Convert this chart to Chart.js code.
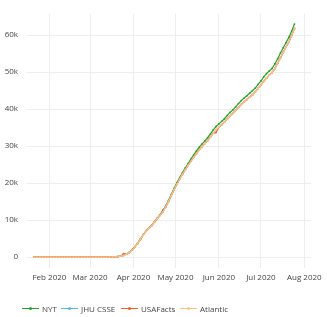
<!DOCTYPE html>
<html><head><meta charset="utf-8">
<script src="https://cdn.jsdelivr.net/npm/chart.js@4/dist/chart.umd.min.js"></script>
<style>
html,body{margin:0;padding:0;background:#fff;}
#wrap{position:relative;width:327px;height:317px;}
#c{position:absolute;left:0;top:0;}
.lg{position:absolute;top:302px;height:13px;display:flex;align-items:center;font-family:"Open Sans",sans-serif;font-size:8px;color:#444;white-space:nowrap;}
.lg .ln{position:relative;width:17px;height:1.5px;margin-right:3px;}
.lg .dt{position:absolute;left:7px;top:-0.75px;width:3px;height:3px;border-radius:1.5px;}
</style></head>
<body><div id="wrap"><canvas id="c" width="327" height="317"></canvas><div id="legend"></div></div>
<script>
const dates = [
'2020-01-21','2020-01-23','2020-01-25','2020-01-27','2020-01-29','2020-01-31',
'2020-02-02','2020-02-04','2020-02-06','2020-02-08','2020-02-10','2020-02-12','2020-02-14','2020-02-16','2020-02-18','2020-02-20','2020-02-22','2020-02-24','2020-02-26','2020-02-28',
'2020-03-01','2020-03-03','2020-03-05','2020-03-07','2020-03-09','2020-03-11','2020-03-13','2020-03-15','2020-03-17','2020-03-19','2020-03-21','2020-03-23','2020-03-25','2020-03-27','2020-03-29','2020-03-31',
'2020-04-02','2020-04-04','2020-04-06','2020-04-08','2020-04-10','2020-04-12','2020-04-14','2020-04-16','2020-04-18','2020-04-20','2020-04-22','2020-04-24','2020-04-26','2020-04-28','2020-04-30',
'2020-05-02','2020-05-04','2020-05-06','2020-05-08','2020-05-10','2020-05-12','2020-05-14','2020-05-16','2020-05-18','2020-05-20','2020-05-22','2020-05-24','2020-05-26','2020-05-28','2020-05-30',
'2020-06-01','2020-06-03','2020-06-05','2020-06-07','2020-06-09','2020-06-11','2020-06-13','2020-06-15','2020-06-17','2020-06-19','2020-06-21','2020-06-23','2020-06-25','2020-06-27','2020-06-29',
'2020-07-01','2020-07-03','2020-07-05','2020-07-07','2020-07-09','2020-07-11','2020-07-13','2020-07-15','2020-07-17','2020-07-19','2020-07-21','2020-07-23','2020-07-25'
];
const nyt = [
0,0,0,0,0,0,
0,0,0,0,0,0,0,0,0,0,0,0,0,0,
0,0,0,0,0,0,0,20,50,90,160,280,500,850,1300,2000,
2800,3800,4900,6100,7100,7900,8600,9600,10500,11500,12400,13800,15300,16900,18600,
20100,21500,22800,24100,25300,26500,27600,28700,29700,30600,31400,32300,33300,34400,35300,
36000,36700,37400,38300,39100,39800,40600,41500,42300,43000,43600,44300,45000,45700,46700,
47600,48700,49600,50300,51000,52200,53600,55200,56600,58000,59400,61100,63000
];
const jhu = [
0,0,0,0,0,0,
0,0,0,0,0,0,0,0,0,0,0,0,0,0,
0,0,0,0,0,0,0,20,40,80,150,260,460,790,1240,1880,
2680,3690,4780,5980,6990,7790,8490,9480,10380,11280,12180,13480,14980,16580,18180,
19680,21080,22380,23580,24780,25880,26980,27980,28980,29880,30680,31480,32480,33480,34380,
35080,35780,36480,37380,38180,38880,39680,40480,41280,41980,42580,43280,43880,44680,45580,
46480,47480,48380,49180,49880,50980,52380,53880,55380,56780,58180,59880,61780
];
const usafacts = [
0,0,0,0,0,0,
0,0,0,0,0,0,0,0,0,0,0,0,0,0,
0,0,0,0,0,0,0,20,40,80,150,260,950,800,1250,1900,
2700,3700,4800,6000,7000,7800,8500,9500,10400,11300,12700,13500,15000,16600,18200,
19700,21100,22400,23600,24800,25900,27000,28000,29000,29900,30700,31500,32500,33500,33700,
35100,35800,36500,37400,38200,38900,39700,40500,41300,42000,42600,43300,43900,44700,45600,
46500,47500,48400,49200,49900,51000,52400,53900,55400,56800,58200,59900,61800
];
const atlantic = [
0,0,0,0,0,0,
0,0,0,0,0,0,0,0,0,0,0,0,0,0,
0,0,0,0,0,0,0,20,40,80,150,260,470,800,1250,1900,
2700,3700,4800,6000,7000,7800,8500,9500,10400,11300,12200,13500,15000,16600,18200,
19700,21100,22400,23600,24800,25900,27000,28000,29000,29900,30700,31500,32500,33500,34400,
35100,35800,36500,37400,38200,38900,39700,40500,41300,42000,42600,43300,43900,44700,45600,
46500,47500,48400,49200,49900,51000,52400,53900,55400,56800,58200,59900,61800
];
const seriesNames = ['NYT','JHU CSSE','USAFacts','Atlantic'];
const seriesColors = ['#2ca02c','#5bb8dc','#e8602a','#fdc28a'];
const xTickDates = ['2020-02-01','2020-03-01','2020-04-01','2020-05-01','2020-06-01','2020-07-01','2020-08-01'];
const xTickLabels = ['Feb 2020','Mar 2020','Apr 2020','May 2020','Jun 2020','Jul 2020','Aug 2020'];
const yTickValues = [0,10000,20000,30000,40000,50000,60000];
const yTickLabels = ['0','10k','20k','30k','40k','50k','60k'];

const base = Date.UTC(2020,1,1);
function dayOf(s){const p=s.split('-');return (Date.UTC(+p[0],+p[1]-1,+p[2])-base)/864e5;}
const xs = dates.map(dayOf);
const xTickDays = xTickDates.map(dayOf);
const allSeries = [nyt,jhu,usafacts,atlantic];

const datasets = allSeries.map((vals,i)=>({
  label: seriesNames[i],
  data: vals.map((v,j)=>({x:xs[j],y:v})),
  borderColor: seriesColors[i],
  backgroundColor: seriesColors[i],
  borderWidth: 1.2,
  pointRadius: 0.9,
  pointBorderWidth: 0,
  pointBackgroundColor: seriesColors[i],
  tension: 0,
  fill: false,
  order: 3 - i
}));

const font = {family:'"Open Sans", sans-serif', size:8};
new Chart(document.getElementById('c'), {
  type:'line',
  data:{datasets},
  options:{
    responsive:false, animation:false, devicePixelRatio:1,
    layout:{padding:{left:0,right:15,top:0,bottom:0}},
    plugins:{legend:{display:false},tooltip:{enabled:false}},
    scales:{
      x:{type:'linear',min:-16,max:187,
        grid:{color:'#eeeeee',drawTicks:false,lineWidth:1},
        border:{display:false},
        afterBuildTicks:s=>{s.ticks=xTickDays.map(v=>({value:v}));},
        afterFit:s=>{s.height=49;},
        ticks:{font,color:'#444',padding:5,maxRotation:0,autoSkip:false,
          callback:(v,i)=>xTickLabels[i]}
      },
      y:{type:'linear',min:-2950,max:65770,
        grid:{color:'#eeeeee',drawTicks:false,lineWidth:1},
        border:{display:false},
        afterBuildTicks:s=>{s.ticks=yTickValues.map(v=>({value:v}));},
        afterFit:s=>{s.width=27;},
        ticks:{font,color:'#444',padding:9,
          callback:(v,i)=>yTickLabels[i]}
      }
    }
  }
});

const legendPos = [22,61,121,180];
const lg = document.getElementById('legend');
seriesNames.forEach((n,i)=>{
  const d=document.createElement('div');d.className='lg';d.style.left=legendPos[i]+'px';
  const ln=document.createElement('div');ln.className='ln';ln.style.background=seriesColors[i];
  const dt=document.createElement('div');dt.className='dt';dt.style.background=seriesColors[i];
  ln.appendChild(dt);d.appendChild(ln);
  const t=document.createElement('span');t.textContent=n;d.appendChild(t);
  lg.appendChild(d);
});
</script></body></html>
